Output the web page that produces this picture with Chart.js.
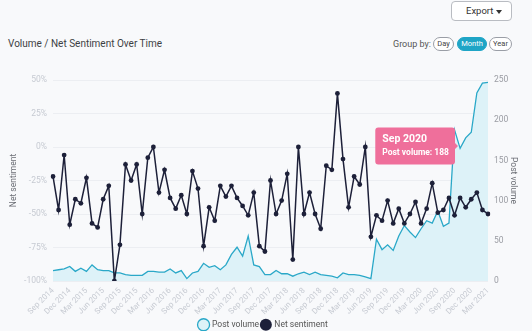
<!DOCTYPE html>
<html>
<head>
<meta charset="utf-8">
<script src="https://cdn.jsdelivr.net/npm/chart.js@4"></script>
<style>
    html, body { margin: 0; padding: 0; }
    body {
        width: 532px; height: 331px; overflow: hidden; position: relative;
        background: #f8f9fb; font-family: Roboto, "Open Sans", sans-serif;
    }
    .export-btn {
        position: absolute; left: 451px; top: 1px; width: 61px; height: 20px;
        box-sizing: border-box; border: 1px solid #b9bcc2; border-radius: 4px;
        background: #fff; font-size: 9.5px; color: #333; line-height: 18px;
        padding-left: 14px;
    }
    .export-btn .caret {
        position: absolute; left: 44px; top: 8px; width: 0; height: 0;
        border-left: 3px solid transparent; border-right: 3px solid transparent;
        border-top: 4px solid #333;
    }
    .title {
        position: absolute; left: 8px; top: 38px; font-size: 10px; color: #3d3f44;
    }
    .group-by {
        position: absolute; left: 393px; top: 39px; font-size: 9px; color: #555;
    }
    .pill {
        position: absolute; top: 37px; height: 14px; box-sizing: border-box;
        border: 1px solid #9a9ea6; border-radius: 7px; font-size: 7.5px;
        color: #444; line-height: 12px; text-align: center; background: #fff;
    }
    .pill.active { background: #1fa5c6; border-color: #1fa5c6; color: #fff; }
    /* the canvas runs a little past the window so the legend's spare bottom gap is cut off */
    #wrap { position: absolute; left: 0; top: 58px; width: 532px; height: 281px; }
</style>
</head>
<body>
<div class="export-btn">Export<span class="caret"></span></div>
<div class="title">Volume / Net Sentiment Over Time</div>
<div class="group-by">Group by:</div>
<div class="pill" style="left:433px;width:21px;">Day</div>
<div class="pill active" style="left:457px;width:30px;">Month</div>
<div class="pill" style="left:489px;width:23px;">Year</div>
<div id="wrap"><canvas id="chart"></canvas></div>

<script>
// ----- data (monthly, Sep 2014 .. Mar 2021) -----
const monthLabels = [
    "Sep 2014", "Oct 2014", "Nov 2014", "Dec 2014", "Jan 2015", "Feb 2015", "Mar 2015", "Apr 2015",
    "May 2015", "Jun 2015", "Jul 2015", "Aug 2015", "Sep 2015", "Oct 2015", "Nov 2015", "Dec 2015",
    "Jan 2016", "Feb 2016", "Mar 2016", "Apr 2016", "May 2016", "Jun 2016", "Jul 2016", "Aug 2016",
    "Sep 2016", "Oct 2016", "Nov 2016", "Dec 2016", "Jan 2017", "Feb 2017", "Mar 2017", "Apr 2017",
    "May 2017", "Jun 2017", "Jul 2017", "Aug 2017", "Sep 2017", "Oct 2017", "Nov 2017", "Dec 2017",
    "Jan 2018", "Feb 2018", "Mar 2018", "Apr 2018", "May 2018", "Jun 2018", "Jul 2018", "Aug 2018",
    "Sep 2018", "Oct 2018", "Nov 2018", "Dec 2018", "Jan 2019", "Feb 2019", "Mar 2019", "Apr 2019",
    "May 2019", "Jun 2019", "Jul 2019", "Aug 2019", "Sep 2019", "Oct 2019", "Nov 2019", "Dec 2019",
    "Jan 2020", "Feb 2020", "Mar 2020", "Apr 2020", "May 2020", "Jun 2020", "Jul 2020", "Aug 2020",
    "Sep 2020", "Oct 2020", "Nov 2020", "Dec 2020", "Jan 2021", "Feb 2021", "Mar 2021"
];

const postVolume = [
    13, 14, 15, 18, 12, 16, 12, 20, 14, 13, 13, 10, 10, 8, 7, 7,
    7, 12, 12, 11, 11, 15, 10, 13, 3, 10, 12, 22, 17, 19, 14, 20,
    33, 42, 31, 56, 20, 18, 8, 8, 13, 9, 9, 6, 9, 11, 8, 11,
    8, 7, 6, 4, 10, 8, 8, 7, 5, 3, 52, 39, 45, 38, 56, 69,
    61, 54, 65, 75, 72, 87, 68, 72, 188, 165, 178, 185, 234, 246, 247
];

const netSentiment = [
    -22, -47, -6, -58, -39, -42, -23, -57, -60, -39, -29, -100, -73, -13, -25, -13,
    -50, -8, 0, -34, -17, -38, -46, -36, -50, -18, -31, -74, -45, -55, -29, -37,
    -29, -38, -44, -51, -34, -74, -78, -25, -50, -40, -20, -84, 0, -50, -34, -50,
    -61, -14, -17, 40, -9, -45, -22, -28, 0, -67, -51, -55, -40, -57, -46, -57,
    -50, -41, -57, -46, -27, -49, -47, -38, -51, -38, -45, -39, -34, -47, -50
];

const sentimentTicks = { min: -100, max: 50, step: 25 };
const volumeTicks = { min: 0, max: 250, step: 50 };
const tooltipIndex = 72;   // "Sep 2020" is shown as hovered

// ----- chart -----
Chart.defaults.font.family = "Roboto, 'Open Sans', sans-serif";

// keep the tooltip box where the reference shows it
Chart.Tooltip.positioners.pinned = function () {
    const area = this.chart.chartArea;
    return { x: area.left + 405, y: area.top + 66 };
};

const chart = new Chart(document.getElementById("chart"), {
    type: "line",
    data: {
        labels: monthLabels,
        datasets: [
            {
                label: "Post volume",
                data: postVolume,
                yAxisID: "y1",
                order: 2,
                borderColor: "#2aa8c8",
                backgroundColor: "#ddf2f8",
                borderWidth: 1.3,
                fill: "origin",
                pointRadius: 0,
                pointHoverRadius: 0,
                tension: 0
            },
            {
                label: "Net sentiment",
                data: netSentiment,
                yAxisID: "y",
                order: 1,
                borderColor: "#1d2039",
                backgroundColor: "#1d2039",
                borderWidth: 1.5,
                pointRadius: 2.4,
                pointBackgroundColor: "#1d2039",
                pointBorderWidth: 0,
                pointHoverRadius: 2.4,
                tension: 0
            }
        ]
    },
    options: {
        responsive: true,
        maintainAspectRatio: false,
        animation: false,
        events: [],
        layout: { padding: { left: 9, right: 14, top: 22, bottom: 0 } },
        scales: {
            x: {
                afterFit: s => { s.height = 37; },
                grid: { display: false, tickLength: 4 },
                border: { display: false },
                ticks: {
                    autoSkip: false,
                    minRotation: 45, maxRotation: 45,
                    color: "#c6cad2",
                    font: { size: 8 },
                    padding: 1,
                    callback: function (value, index) {
                        return index % 3 === 0 ? this.getLabelForValue(value) : "";
                    }
                }
            },
            y: {
                position: "left",
                min: sentimentTicks.min, max: sentimentTicks.max,
                afterFit: s => { s.width = 44; },
                grid: { color: "#eceef2", drawTicks: false },
                border: { display: false },
                ticks: {
                    stepSize: sentimentTicks.step,
                    color: "#c6cad2",
                    font: { size: 8.5 },
                    padding: 6,
                    callback: v => v + "%"
                },
                title: { display: true, text: "Net sentiment", color: "#6b6e75", font: { size: 8.5 }, padding: 0 }
            },
            y1: {
                position: "right",
                min: volumeTicks.min, max: volumeTicks.max,
                afterFit: s => { s.width = 30; },
                grid: { drawOnChartArea: false, drawTicks: false },
                border: { display: false },
                ticks: {
                    stepSize: volumeTicks.step,
                    color: "#9a9ca3",
                    font: { size: 8.5 },
                    padding: 6
                },
                title: { display: true, text: "Post volume", color: "#6b6e75", font: { size: 8.5 }, padding: 0 }
            }
        },
        plugins: {
            legend: {
                position: "bottom",
                labels: {
                    usePointStyle: true,
                    boxHeight: 8.5,
                    color: "#555",
                    font: { size: 8.5 },
                    padding: 2.5,
                    sort: (a, b) => a.datasetIndex - b.datasetIndex
                }
            },
            tooltip: {
                enabled: true,
                position: "pinned",
                xAlign: "right",
                yAlign: "center",
                backgroundColor: "#ef6f9b",
                titleColor: "#fff",
                bodyColor: "#fff",
                titleFont: { size: 10.5, weight: "bold" },
                bodyFont: { size: 8.5, weight: "bold" },
                titleMarginBottom: 3,
                padding: { left: 7, right: 6, top: 5, bottom: 6 },
                caretSize: 3,
                caretPadding: 0,
                cornerRadius: 3,
                displayColors: false
            }
        }
    }
});

chart.tooltip.setActiveElements([{ datasetIndex: 0, index: tooltipIndex }], { x: 0, y: 0 });
chart.update();
</script>
</body>
</html>
